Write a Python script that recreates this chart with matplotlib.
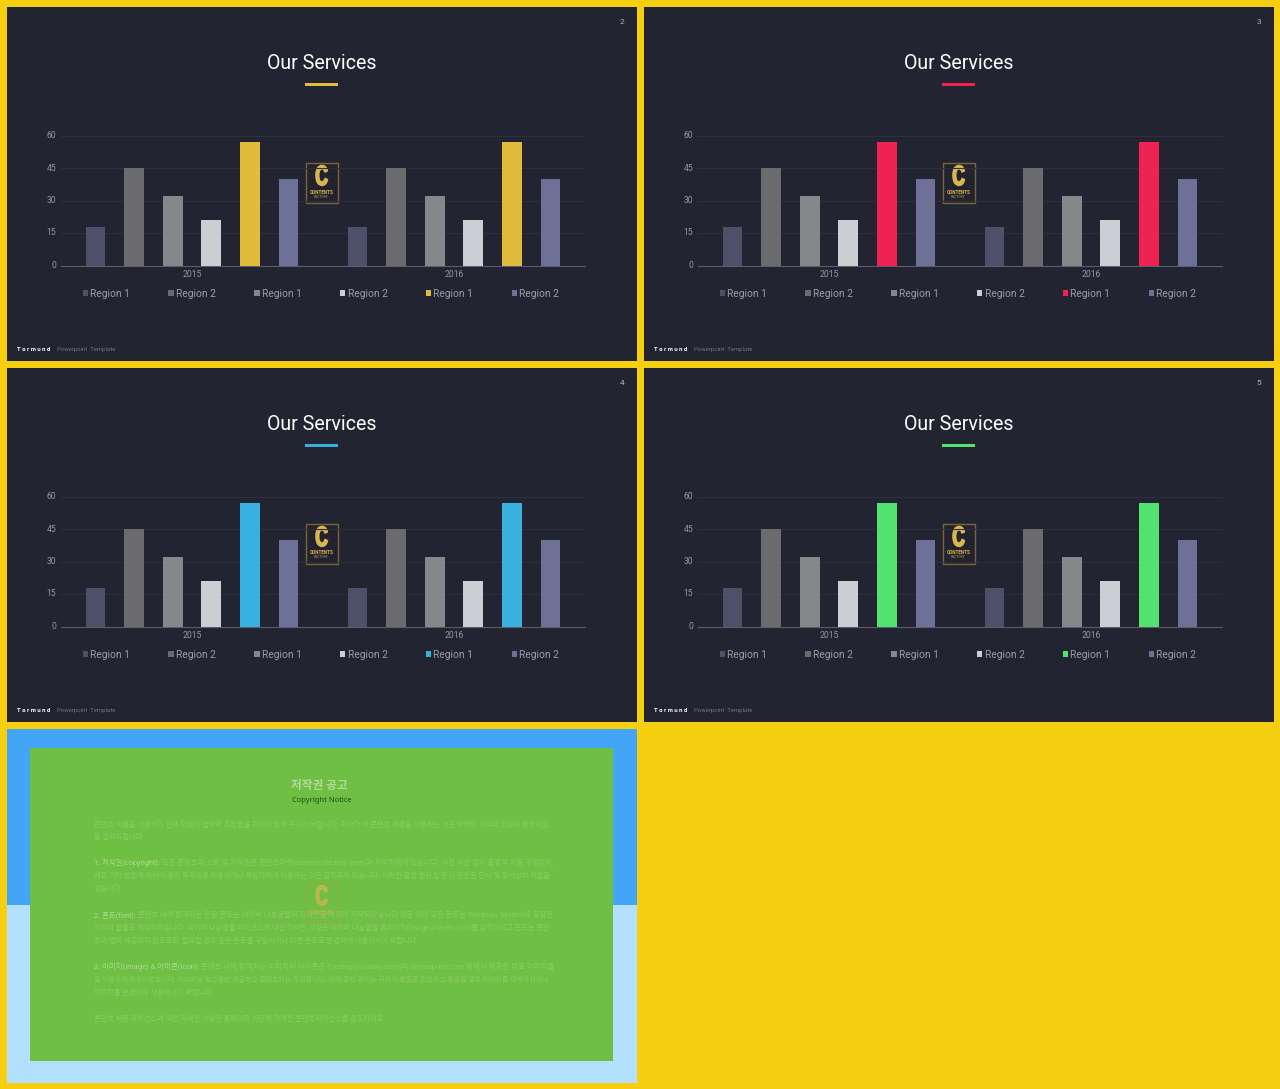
import matplotlib
matplotlib.use("Agg")
import matplotlib.pyplot as plt
from matplotlib.patches import Rectangle
from matplotlib.patheffects import AbstractPathEffect
from matplotlib.transforms import Affine2D, ScaledTranslation
import numpy as np

plt.rcParams['font.family'] = ['Roboto', 'Noto Sans CJK KR', 'DejaVu Sans']

years = ['2015', '2016']
series_names = ['Region 1', 'Region 2', 'Region 1', 'Region 2', 'Region 1', 'Region 2']
series_values = [[18, 18], [45, 45], [32, 32], [21, 21], [57, 57], [40, 40]]
yticks = [0, 15, 30, 45, 60]
base_colors = ['#4e4f69', '#6b6b6e', '#86878a', '#cdced3', None, '#6d7097']
accents = ['#e3bb3a', '#ef2352', '#38b0e0', '#52e26f']
page_numbers = ['2', '3', '4', '5']
slide_title = 'Our Services'
notice_title = '저작권 공고'
notice_sub = 'Copyright Notice'
# y, lead-in (brighter), body, fills the full column width
notice_lines = [
    (825, '', '콘텐츠 제품을 사용하기 전에 다음의 협약과 조항들을 자세히 읽어 주시기 바랍니다. 귀하가 이 콘텐츠 제품을 사용하는 것은 아래의 계약과 조항에 동의하심', True),
    (837, '', '을 알려드립니다.', False),
    (863, '1. 저작권(copyright):', ' 모든 콘텐츠의 소유 및 저작권은 콘텐츠마켓(contentsfactory.com)과 저작자에게 있습니다. 사전 서면 없이 불법적 이용 구입없이,', True),
    (876, '', '배포 기타 방법에 의하여 영리 목적으로 이용하거나 제삼자에게 이용하는 것은 금지되어 있습니다. 이러한 불법 행위 발견 시 관련된 민사 및 형사상의 처벌을', True),
    (889, '', '받습니다.', False),
    (915, '2. 폰트(font):', ' 콘텐츠 내에 탑재되는 한글 폰트는 네이버 나눔글꼴의 저작권을 따르며 저작되었습니다 영문 외의 모든 폰트는 Windows System에 포함된', True),
    (928, '', '자체의 글꼴로 제작되었습니다. 네이버 나눔글꼴 라이선스에 대한 자세한 사항은 네이버 나눔글꼴 홈페이지(hangeulnaver.com)를 참조하시고 폰트는 콘텐', True),
    (941, '', '츠의 법에 제공되지 않으므로, 필요할 경우 원문 폰트를 구입하거나 다른 폰트로 변경하여 사용하시기 바랍니다.', False),
    (967, '3. 이미지(image) & 아이콘(icon):', ' 콘텐츠 내에 탑재되는 이미지와 아이콘은 Pixabay(pixabay.com)와 Wmaxpixel.com 등에서 제공한 무료 이미지를', True),
    (980, '', '을 이용하여 제작되었습니다. 이미지는 참고용만 제공하고 콘텐츠와는 무관합니다. 이에 관한 권리는 귀하가 별도로 확인하고 필요할 경우 이미지를 대체하시거나', True),
    (993, '', '이미지를 변경하여 사용하시기 바랍니다.', False),
    (1019, '', '콘텐츠 제품 라이선스에 대한 자세한 사항은 홈페이지 하단에 기재한 콘텐츠라이선스를 참조하세요.', False),
]

W, H = 1280, 1089
fig = plt.figure(figsize=(W / 100, H / 100), dpi=100, facecolor='#f6cf11')
bg = fig.add_axes([0, 0, 1, 1])
bg.set_xlim(0, W)
bg.set_ylim(H, 0)
bg.axis('off')
renderer = fig.canvas.get_renderer()


class Squeeze(AbstractPathEffect):
    """Draw a text narrower about its own centre, with a thickening stroke."""

    def __init__(self, sx, stroke):
        super().__init__()
        self.sx = sx
        self.stroke = stroke

    def draw_path(self, rend, gc, tpath, affine, rgbFace=None):
        ext = tpath.get_extents()
        cx = (ext.x0 + ext.x1) / 2
        squeeze = Affine2D().translate(-cx, 0).scale(self.sx, 1).translate(cx, 0)
        gc0 = rend.new_gc()
        gc0.copy_properties(gc)
        gc0.set_foreground(rgbFace)
        gc0.set_linewidth(self.stroke)
        rend.draw_path(gc0, tpath, squeeze + affine, rgbFace)
        gc0.restore()


def px_axes(x0, y0, x1, y1):
    return fig.add_axes([x0 / W, 1 - y1 / H, (x1 - x0) / W, (y1 - y0) / H])


def logo(cx, cy, faint=False):
    a = 0.6 if faint else 1
    if not faint:
        bg.add_patch(Rectangle((cx - 16, cy - 20), 32, 40, fc='#232330', ec='#7a6534', lw=1, zorder=5))
    else:
        bg.add_patch(Rectangle((cx - 16, cy - 20), 32, 40, fc='none', ec='#c79a3a', lw=0.8, alpha=0.5, zorder=5))
    bg.text(cx, cy - 5, 'C', color='#d9b64e', fontsize=20, fontweight='bold', ha='center', va='center',
            family=['Liberation Sans', 'DejaVu Sans'], alpha=a, zorder=6, path_effects=[Squeeze(0.62, 1.3)])
    bg.text(cx, cy + 9, 'CONTENTS', color='#d9b64e', fontsize=3.3, fontweight='bold', ha='center', va='center',
            alpha=a, zorder=6)
    bg.text(cx, cy + 13.5, 'FACTORY', color='#b99a45', fontsize=2.4, ha='center', va='center', alpha=a, zorder=6)


offsets = [(0, 0), (637, 0), (0, 361), (637, 361)]
for (dx, dy), accent, page in zip(offsets, accents, page_numbers):
    bg.add_patch(Rectangle((7 + dx, 7 + dy), 630, 354, fc='#222431', ec='none', zorder=1))
    bg.text(321.5 + dx, 63.5 + dy, slide_title, color='white', fontsize=14.1,
            ha='center', va='center', zorder=3)
    bg.add_patch(Rectangle((305 + dx, 83 + dy), 33, 3, fc=accent, ec='none', zorder=3))
    bg.text(622 + dx, 22 + dy, page, color='#b0b1b8', fontsize=6, ha='center', va='center', zorder=3)
    bg.text(17 + dx, 349.5 + dy, 'T o r m u n d', color='white', fontsize=4.2, fontweight='bold',
            ha='left', va='center', zorder=3)
    bg.text(57 + dx, 349.5 + dy, 'Powerpoint  Template', color='#70717b', fontsize=4.3,
            ha='left', va='center', zorder=3)

    ax = px_axes(61 + dx, 136 + dy, 585 + dx, 265.5 + dy)
    ax.patch.set_alpha(0)
    ax.set_zorder(2)
    x = np.arange(len(years))
    handles = []
    for i, (name, vals, col) in enumerate(zip(series_names, series_values, base_colors)):
        b = ax.bar(x + (i - 2.5) * 0.147, vals, width=0.0745, color=col or accent, label=name, zorder=3)
        handles.append(b)
    ax.set_xlim(-0.5, 1.5)
    ax.set_ylim(0, 60)
    ax.set_yticks(yticks)
    ax.set_xticks(x)
    ax.set_xticklabels(years)
    ax.tick_params(length=0, labelcolor='#96979e', labelsize=6.2)
    ax.tick_params(axis='x', pad=3.5)
    ax.tick_params(axis='y', pad=3.5)
    lift = ScaledTranslation(0, 1.2 / 100, fig.dpi_scale_trans)
    for lbl in ax.get_yticklabels():
        lbl.set_transform(lbl.get_transform() + lift)
    ax.grid(axis='y', color='#2e2f3c', lw=0.8, zorder=0)
    ax.set_axisbelow(True)
    for s in ['top', 'left', 'right']:
        ax.spines[s].set_visible(False)
    ax.spines['bottom'].set_color('#5c5d68')
    ax.spines['bottom'].set_linewidth(0.8)
    ax.legend(handles=handles, ncol=6, frameon=False, loc='center', bbox_to_anchor=(0.496, -0.218),
              fontsize=7.4, labelcolor='#9c9da4', handlelength=0.5, handleheight=0.5,
              handletextpad=0.2, columnspacing=3.78, borderpad=0, borderaxespad=0)
    logo(321.5 + dx, 183 + dy)

# notice panel
bg.add_patch(Rectangle((7, 729), 630, 176, fc='#42a5f5', ec='none', zorder=1))
bg.add_patch(Rectangle((7, 905), 630, 178, fc='#b3e0ff', ec='none', zorder=1))
bg.add_patch(Rectangle((30, 748), 583, 313, fc='#6fbf44', ec='none', zorder=2))
bg.text(319, 785.5, notice_title, color='#b5dba0', fontsize=8.4, fontweight='bold', ha='center', va='center', zorder=3)
bg.text(322, 800, notice_sub, color='#1f4d12', fontsize=5.4, ha='center', va='center',
        family=['Noto Sans', 'DejaVu Sans'], zorder=3)

COLUMN_LEFT, COLUMN_WIDTH, BASE_SIZE = 94, 456, 5.2
for y, lead, body, full in notice_lines:
    size = BASE_SIZE
    if full:
        probe = bg.text(0, 0, lead + body, fontsize=BASE_SIZE)
        size = BASE_SIZE * COLUMN_WIDTH / probe.get_window_extent(renderer).width
        probe.remove()
    x0 = COLUMN_LEFT
    if lead:
        t = bg.text(x0, y, lead, color='#a9dc8f', fontsize=size, ha='left', va='center', zorder=3)
        x0 += t.get_window_extent(renderer).width
    bg.text(x0, y, body, color='#8acb66', fontsize=size, ha='left', va='center', zorder=3)
logo(321.5, 903, faint=True)

fig.savefig('out.png', dpi=100, facecolor=fig.get_facecolor())
